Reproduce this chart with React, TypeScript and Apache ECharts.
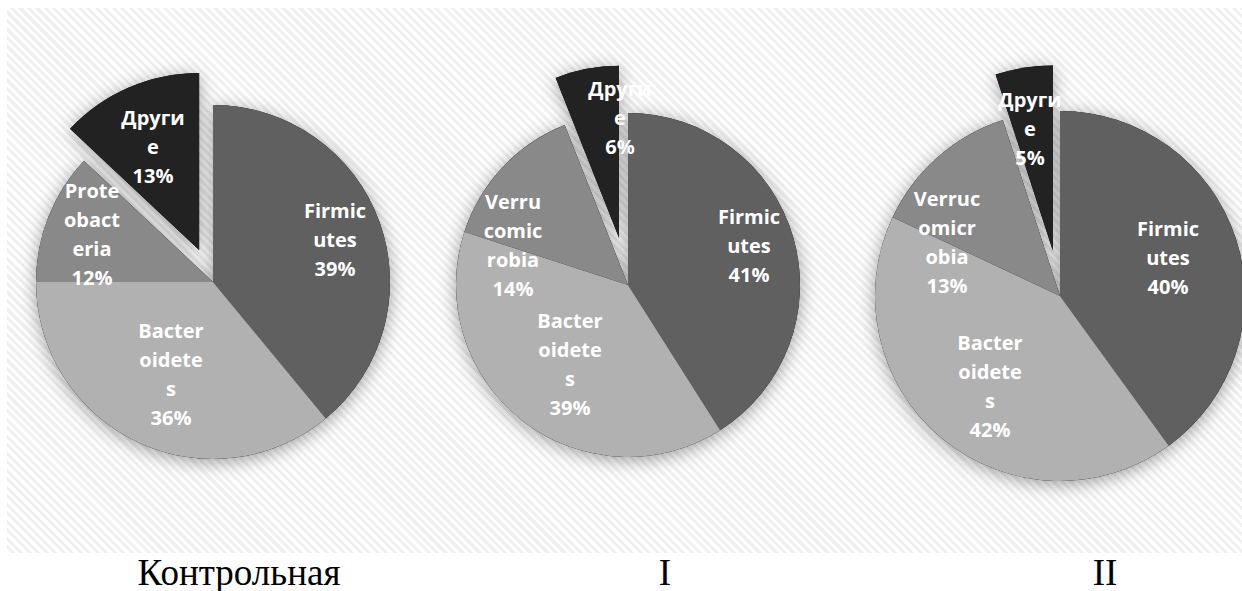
import React, { useEffect, useRef } from "react";
import * as echarts from "echarts";

// ---- data ----
const groupTitles = ["Контрольная", "I", "II"];

const pie1Names = ["Firmicutes", "Bacteroidetes", "Proteobacteria", "Други"];
const pie1Values = [39, 36, 12, 13];
const pie1Wrapped = ["Firmic\nutes", "Bacter\noidete\ns", "Prote\nobact\neria", "Други\ne"];

const pie2Names = ["Firmicutes", "Bacteroidetes", "Verrucomicrobia", "Други"];
const pie2Values = [41, 39, 14, 6];
const pie2Wrapped = ["Firmic\nutes", "Bacter\noidete\ns", "Verru\ncomic\nrobia", "Други\ne"];

const pie3Names = ["Firmicutes", "Bacteroidetes", "Verrucomicrobia", "Други"];
const pie3Values = [40, 42, 13, 5];
const pie3Wrapped = ["Firmic\nutes", "Bacter\noidete\ns", "Verruc\nomicr\nobia", "Други\ne"];

const explodedName = "Други";

// ---- styles / layout ----
const sliceColors = ["#606060", "#b1b1b1", "#898989", "#222222"];

const pies = [
  { names: pie1Names, values: pie1Values, wrapped: pie1Wrapped, center: [213, 282], r: 177, offset: 35,
    labelOff: [[122, -43], [-42, 92], [-121, -48], [-60, -136]], titleX: 239 },
  { names: pie2Names, values: pie2Values, wrapped: pie2Wrapped, center: [628, 285], r: 172, offset: 48,
    labelOff: [[121, -40], [-58, 79], [-115, -40], [-8, -168]], titleX: 665 },
  { names: pie3Names, values: pie3Values, wrapped: pie3Wrapped, center: [1060, 296], r: 185, offset: 46,
    labelOff: [[108, -39], [-70, 90], [-113, -54], [-30, -168]], titleX: 1105 },
];

export default function App() {
  const ref = useRef<HTMLDivElement>(null);

  useEffect(() => {
    if (!ref.current) return;
    const chart = echarts.init(ref.current, undefined, { renderer: "svg" });

    // shift of the exploded slice, computed from the data
    const explodedCenter = (p: any) => {
      const total = p.values.reduce((a: number, b: number) => a + b, 0);
      const idx = p.names.indexOf(explodedName);
      let before = 0;
      for (let i = 0; i < idx; i++) before += p.values[i];
      const midFrac = (before + p.values[idx] / 2) / total;
      const theta = ((90 - midFrac * 360) * Math.PI) / 180;
      return [p.center[0] + p.offset * Math.cos(theta), p.center[1] - p.offset * Math.sin(theta)];
    };

    // part: "main" shows all but the exploded slice, "exploded" shows only it
    const makeData = (p: any, part: string, shadow: boolean) =>
      p.names.map((n: string, i: number) => {
        const visible = part === "main" ? n !== explodedName : n === explodedName;
        return {
          name: n,
          value: p.values[i],
          itemStyle: { color: visible ? (shadow ? "#000000" : sliceColors[i]) : "rgba(0,0,0,0)" },
          label: { show: visible && !shadow },
        };
      });

    const series: any[] = [];
    const parts = ["main", "exploded"];
    // shadow layer
    pies.forEach((p) => {
      parts.forEach((part) => {
        series.push({
          type: "pie",
          silent: true,
          center: part === "main" ? p.center : explodedCenter(p),
          radius: p.r,
          startAngle: 90,
          clockwise: true,
          avoidLabelOverlap: false,
          z: 1,
          label: { show: false },
          labelLine: { show: false },
          emphasis: { disabled: true },
          itemStyle: {
            shadowBlur: 18,
            shadowColor: "rgba(0,0,0,0.38)",
            shadowOffsetX: 0,
            shadowOffsetY: 3,
          },
          data: makeData(p, part, true),
        });
      });
    });
    // visible layer
    pies.forEach((p) => {
      parts.forEach((part) => {
        series.push({
          type: "pie",
          silent: true,
          center: part === "main" ? p.center : explodedCenter(p),
          radius: p.r,
          startAngle: 90,
          clockwise: true,
          avoidLabelOverlap: false,
          percentPrecision: 0,
          z: 2,
          itemStyle: { borderWidth: 0 },
          emphasis: { disabled: true },
          labelLine: { show: false },
          label: {
            show: true,
            position: "inside",
            color: "#ffffff",
            fontFamily: "Open Sans",
            fontWeight: "bold",
            fontSize: 20,
            lineHeight: 29,
            align: "center",
            formatter: (params: any) =>
              p.wrapped[params.dataIndex] + "\n" + Math.round(params.percent) + "%",
          },
          labelLayout: (params: any) => {
            const o = p.labelOff[params.dataIndex];
            return {
              x: p.center[0] + o[0],
              y: p.center[1] + o[1],
              align: "center",
              verticalAlign: "middle",
            };
          },
          data: makeData(p, part, false),
        });
      });
    });

    chart.setOption({
      animation: false,
      backgroundColor: "transparent",
      series,
      graphic: pies.map((p, i) => ({
        type: "text",
        x: p.titleX,
        y: 572,
        style: {
          text: groupTitles[i],
          fill: "#000000",
          font: "37px 'Liberation Serif'",
          textAlign: "center",
          textVerticalAlign: "middle",
        },
      })),
    });

    return () => chart.dispose();
  }, []);

  return (
    <div style={{ position: "absolute", left: 0, top: 0, width: 1242, height: 591, background: "#ffffff" }}>
      <div
        style={{
          position: "absolute",
          left: 7,
          top: 8,
          width: 1235,
          height: 545,
          background:
            "repeating-linear-gradient(45deg, #ffffff 0px, #ffffff 3px, #f0f0f0 3px, #f0f0f0 6px)",
        }}
      />
      <div ref={ref} style={{ position: "absolute", left: 0, top: 0, width: 1242, height: 591 }} />
    </div>
  );
}
